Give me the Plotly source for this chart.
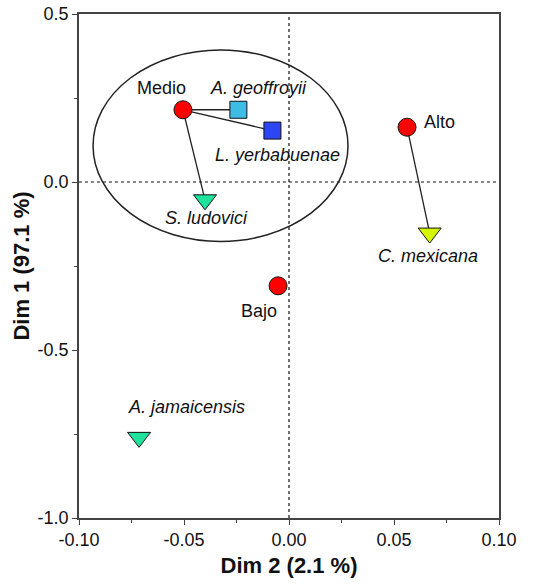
import plotly.graph_objects as go

# Site scores (Dim 2, Dim 1)
sites = ["Medio", "Alto", "Bajo"]
site_x = [-0.0505, 0.0562, -0.0052]
site_y = [0.215, 0.163, -0.309]

# Species scores (Dim 2, Dim 1)
species = ["A. geoffroyii", "L. yerbabuenae", "S. ludovici", "C. mexicana", "A. jamaicensis"]
species_x = [-0.0241, -0.0079, -0.0400, 0.0670, -0.0714]
species_y = [0.215, 0.153, -0.053, -0.152, -0.760]
species_symbol = ["square", "square", "triangle-down", "triangle-down", "triangle-down"]
species_size = [17, 17, 20, 20, 20]
species_color = ["#3DBDE6", "#2B46F2", "#1FE39C", "#D8F500", "#1FE39C"]

# Links from each site to its associated species
links = [("Medio", "A. geoffroyii"), ("Medio", "L. yerbabuenae"),
         ("Medio", "S. ludovici"), ("Alto", "C. mexicana")]

# Grouping ellipse around Medio and its species: centre and semi-axes
ellipse_center = (-0.0326, 0.108)
ellipse_semi = (0.0607, 0.285)

# Axis ticks (hyphen-minus labels)
x_ticks = [-0.10, -0.05, 0.00, 0.05, 0.10]
x_ticktext = ["-0.10", "-0.05", "0.00", "0.05", "0.10"]
y_ticks = [-1.0, -0.5, 0.0, 0.5]
y_ticktext = ["-1.0", "-0.5", "0.0", "0.5"]

# Label offsets in pixels (dx, dy) relative to each marker
site_offsets = {"Medio": (-21, -22), "Alto": (32, -5), "Bajo": (-19, 25)}
species_offsets = {"A. geoffroyii": (20, -22), "L. yerbabuenae": (5, 24),
                   "S. ludovici": (1, 18), "C. mexicana": (-2, 23),
                   "A. jamaicensis": (47, -30)}

FONT = "Liberation Sans, Arial, sans-serif"

fig = go.Figure()

site_pos = dict(zip(sites, zip(site_x, site_y)))
sp_pos = dict(zip(species, zip(species_x, species_y)))

for s, sp in links:
    x0, y0 = site_pos[s]
    x1, y1 = sp_pos[sp]
    fig.add_trace(go.Scatter(x=[x0, x1], y=[y0, y1], mode="lines",
                             line=dict(color="#222222", width=1.3),
                             hoverinfo="skip", showlegend=False))

fig.add_trace(go.Scatter(
    x=species_x, y=species_y, mode="markers", showlegend=False,
    marker=dict(symbol=species_symbol, size=species_size, color=species_color,
                opacity=1, line=dict(color="#111111", width=1))))

fig.add_trace(go.Scatter(
    x=site_x, y=site_y, mode="markers", showlegend=False,
    marker=dict(symbol="circle", size=18, color="#FF0000", opacity=1,
                line=dict(color="#111111", width=1))))

for name, x, y in zip(sites, site_x, site_y):
    dx, dy = site_offsets[name]
    fig.add_annotation(x=x, y=y, text=name, showarrow=False,
                       xshift=dx, yshift=-dy,
                       font=dict(family=FONT, size=18, color="#111111"))

for name, x, y in zip(species, species_x, species_y):
    dx, dy = species_offsets[name]
    fig.add_annotation(x=x, y=y, text=f"<i>{name}</i>", showarrow=False,
                       xshift=dx, yshift=-dy,
                       font=dict(family=FONT, size=18, color="#111111"))

cx, cy = ellipse_center
ax, ay = ellipse_semi
fig.add_shape(type="circle", xref="x", yref="y",
              x0=cx - ax, x1=cx + ax, y0=cy - ay, y1=cy + ay,
              line=dict(color="#222222", width=1.5), layer="below")

# Dotted reference lines through the origin
fig.add_shape(type="line", xref="x", yref="paper", x0=0, x1=0, y0=0, y1=1,
              line=dict(color="#111111", width=1.2, dash="dot"), layer="below")
fig.add_shape(type="line", xref="paper", yref="y", x0=0, x1=1, y0=0, y1=0,
              line=dict(color="#111111", width=1.2, dash="dot"), layer="below")

fig.update_xaxes(
    range=[-0.1, 0.1], tickvals=x_ticks, ticktext=x_ticktext,
    showgrid=False, zeroline=False,
    showline=True, linecolor="#444444", linewidth=1.5, mirror=True,
    ticks="outside", ticklen=5, tickcolor="#444444",
    minor=dict(dtick=0.025, ticks="outside", ticklen=3, tickcolor="#444444"),
    tickfont=dict(family=FONT, size=18, color="#111111"),
    title=dict(text="<b>Dim 2 (2.1 %)</b>", standoff=8,
               font=dict(family=FONT, size=22, color="#111111")))

fig.update_yaxes(
    range=[-1.0, 0.5], tickvals=y_ticks, ticktext=y_ticktext,
    showgrid=False, zeroline=False,
    showline=True, linecolor="#444444", linewidth=1.5, mirror=True,
    ticks="outside", ticklen=5, tickcolor="#444444",
    minor=dict(dtick=0.25, ticks="outside", ticklen=3, tickcolor="#444444"),
    tickfont=dict(family=FONT, size=18, color="#111111"),
    title=dict(text="<b>Dim 1 (97.1 %)</b>", standoff=2,
               font=dict(family=FONT, size=22, color="#111111")))

fig.update_layout(
    width=539, height=584,
    margin=dict(l=79, r=40, t=14, b=66, autoexpand=False),
    paper_bgcolor="white", plot_bgcolor="white",
)

fig.write_html("out.html")
